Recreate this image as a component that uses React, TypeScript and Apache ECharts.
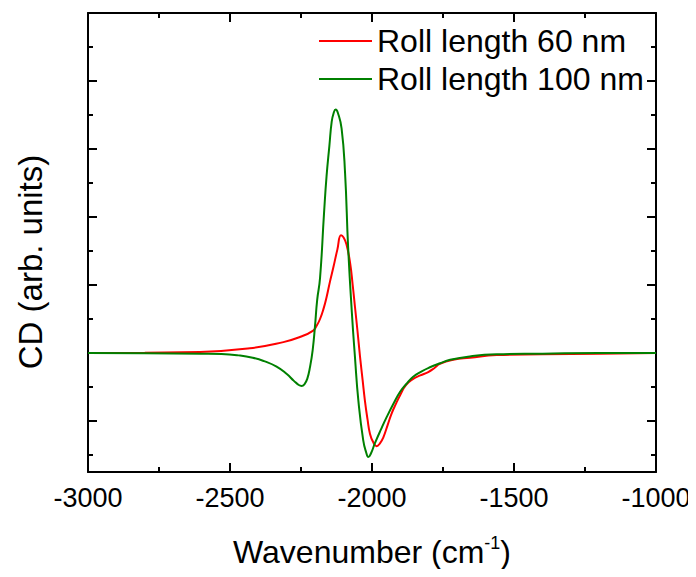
import React, { useEffect, useRef } from "react";
import * as echarts from "echarts";

// Wavenumber (cm^-1) and CD signal (arb. units) for two roll lengths
const roll60X = [
  -3000, -2800, -2606, -2430, -2312, -2254, -2207, -2195, -2183, -2170, -2160, -2148, -2136,
  -2122, -2109, -2100, -2090, -2077, -2068, -2060, -2051, -2042, -2033, -2025, -2016, -2007,
  -1996, -1984, -1972, -1960, -1945, -1931, -1915, -1901, -1880, -1855, -1830, -1802, -1780,
  -1761, -1714, -1655, -1561, -1400, -1200, -1000,
];
const roll60Y = [
  0.0, 0.005, 0.015, 0.07, 0.16, 0.235, 0.33, 0.4, 0.5, 0.66, 0.82, 1.05, 1.26,
  1.52, 1.73, 1.7, 1.6, 1.32, 1.0, 0.68, 0.32, -0.06, -0.4, -0.7, -0.97, -1.19,
  -1.31, -1.37, -1.33, -1.24, -1.06, -0.89, -0.74, -0.62, -0.47, -0.38, -0.33, -0.28, -0.22,
  -0.16, -0.1, -0.07, -0.03, -0.02, -0.01, 0.0,
];

const roll100X = [
  -3000, -2800, -2600, -2530, -2470, -2420, -2380, -2336, -2300, -2275, -2258, -2248, -2238,
  -2228, -2218, -2209, -2201, -2193, -2183, -2169, -2160, -2150, -2142, -2135, -2128, -2120,
  -2107, -2095, -2084, -2071, -2060, -2048, -2031, -2020, -2013, -2003, -1990, -1968, -1948,
  -1925, -1901, -1880, -1855, -1825, -1796, -1760, -1725, -1655, -1561, -1400, -1200, -1000,
];
const roll100Y = [
  0.0, -0.003, -0.01, -0.015, -0.035, -0.07, -0.12, -0.2, -0.31, -0.41, -0.47, -0.485, -0.46,
  -0.38, -0.2, 0.04, 0.38, 0.78, 1.1, 2.05, 2.6, 3.05, 3.4, 3.53, 3.58, 3.53,
  3.3, 2.66, 1.55, 0.6, -0.06, -0.7, -1.28, -1.47, -1.53, -1.47, -1.33, -1.12, -0.94,
  -0.75, -0.57, -0.46, -0.35, -0.27, -0.21, -0.15, -0.1, -0.05, -0.02, -0.01, 0.0, 0.0,
];

const seriesNames = ["Roll length 60 nm", "Roll length 100 nm"];
const xMajorTicks = [-3000, -2500, -2000, -1500, -1000];
const xMinorTicks = [-2750, -2250, -1750, -1250];
const yMajorTicks = [-1, 0, 1, 2, 3, 4, 5];
const yMinorTicks = [-1.5, -0.5, 0.5, 1.5, 2.5, 3.5, 4.5];
const Y_MIN = -1.75;
const Y_MAX = 5;
const MAJOR_LEN = 9;
const MINOR_LEN = 5;

const FONT = "'Liberation Sans', Arial, sans-serif";

const pairs = (xs: number[], ys: number[]) => xs.map((x, i) => [x, ys[i]]);

// Tick rows for the custom series: [x value, tick length]
const xTickRows = [
  ...xMajorTicks.map((v) => [v, MAJOR_LEN]),
  ...xMinorTicks.map((v) => [v, MINOR_LEN]),
];

const yTitle = {
  id: "yTitle",
  type: "text",
  x: 30,
  y: 262,
  rotation: Math.PI / 2,
  style: {
    text: "CD (arb. units)",
    fontFamily: FONT,
    fontSize: 33,
    fill: "#000",
    align: "center",
    verticalAlign: "middle",
  },
};

export default function App() {
  const ref = useRef<HTMLDivElement>(null);

  useEffect(() => {
    if (!ref.current) return;
    const chart = echarts.init(ref.current, null, { renderer: "svg" });

    const tickStyle = { color: "#000", width: 2 };
    const xAxisFor = (position: "top" | "bottom") => ({
      type: "value" as const,
      position,
      min: -3000,
      max: -1000,
      interval: 500,
      axisLine: { show: true, onZero: false, lineStyle: { color: "#000", width: 2 } },
      splitLine: { show: false },
      minorSplitLine: { show: false },
      axisLabel: { show: false },
      axisTick: { show: false },
    });
    const yAxisFor = (position: "left" | "right", values: number[], len: number, line: boolean) => ({
      type: "value" as const,
      position,
      min: Y_MIN,
      max: Y_MAX,
      axisLine: { show: line, onZero: false, lineStyle: { color: "#000", width: 2 } },
      splitLine: { show: false },
      axisLabel: { show: false },
      axisTick: { show: true, inside: true, length: len, customValues: values, lineStyle: tickStyle },
    });

    const tickLine = (x: number, y1: number, y2: number) => ({
      type: "line",
      shape: { x1: x, y1, x2: x, y2 },
      style: { stroke: "#000", lineWidth: 2 },
    });

    chart.setOption({
      animation: false,
      backgroundColor: "#fff",
      grid: { left: 88, right: 40, top: 13, bottom: 105 },
      legend: {
        orient: "vertical",
        left: 314,
        top: 18,
        icon: "rect",
        itemWidth: 53,
        itemHeight: 2,
        itemGap: 2,
        textStyle: { fontFamily: FONT, fontSize: 32, color: "#000", lineHeight: 36 },
        data: seriesNames,
      },
      xAxis: [
        {
          ...xAxisFor("bottom"),
          axisLabel: {
            show: true,
            margin: 12,
            fontFamily: FONT,
            fontSize: 27,
            color: "#000",
            formatter: (v: number) => String(v),
          },
          name: "{a|Wavenumber (cm}{s|-1}{a|)}",
          nameLocation: "middle",
          nameGap: 62,
          nameTextStyle: {
            rich: {
              a: { fontFamily: FONT, fontSize: 32, color: "#000", lineHeight: 36 },
              s: { fontFamily: FONT, fontSize: 18, color: "#000", verticalAlign: "top", lineHeight: 36, padding: [0, 0, 14, 0] },
            },
          },
        },
        xAxisFor("top"),
      ],
      yAxis: [
        yAxisFor("left", yMajorTicks, MAJOR_LEN, true),
        yAxisFor("left", yMinorTicks, MINOR_LEN, false),
        yAxisFor("right", yMajorTicks, MAJOR_LEN, true),
        yAxisFor("right", yMinorTicks, MINOR_LEN, false),
      ],
      graphic: [yTitle],
      series: [
        {
          name: seriesNames[0],
          type: "line",
          data: pairs(roll60X, roll60Y),
          xAxisIndex: 0,
          yAxisIndex: 0,
          showSymbol: false,
          symbol: "none",
          smooth: 0.5,
          lineStyle: { color: "#ff0000", width: 2 },
          itemStyle: { color: "#ff0000" },
          z: 2,
        },
        {
          name: seriesNames[1],
          type: "line",
          data: pairs(roll100X, roll100Y),
          xAxisIndex: 0,
          yAxisIndex: 0,
          showSymbol: false,
          symbol: "none",
          smooth: 0.5,
          lineStyle: { color: "#008000", width: 2 },
          itemStyle: { color: "#008000" },
          z: 3,
        },
        {
          // inward ticks on the bottom and top frame edges
          name: "xTicks",
          type: "custom",
          xAxisIndex: 0,
          yAxisIndex: 0,
          silent: true,
          clip: false,
          z: 10,
          encode: { x: 0 },
          data: xTickRows,
          renderItem: (_params: any, api: any) => {
            const v = api.value(0);
            const len = api.value(1);
            const b = api.coord([v, Y_MIN]);
            const t = api.coord([v, Y_MAX]);
            return {
              type: "group",
              children: [tickLine(b[0], b[1], b[1] - len), tickLine(t[0], t[1], t[1] + len)],
            };
          },
        },
      ],
    });

    return () => chart.dispose();
  }, []);

  return <div ref={ref} style={{ width: 696, height: 577, margin: -8 }} />;
}
